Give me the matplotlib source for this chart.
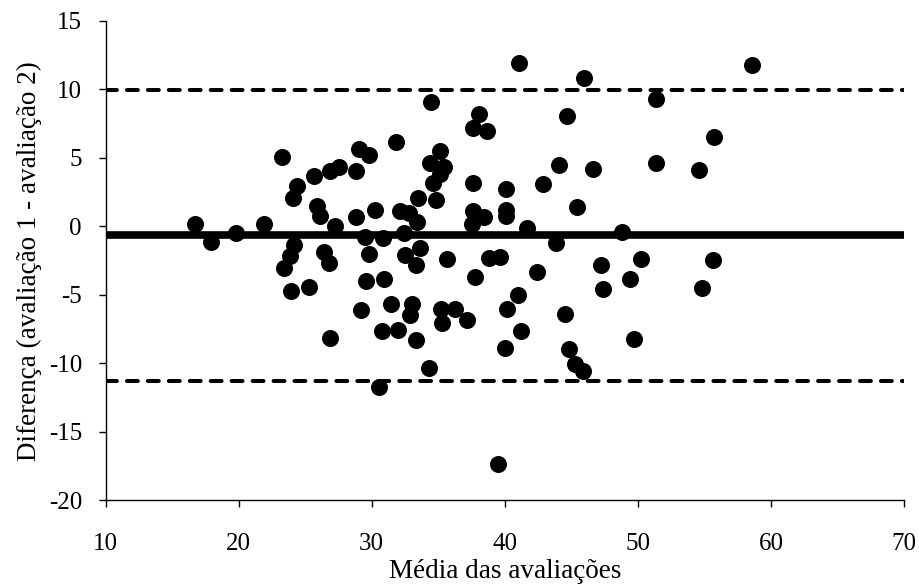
import numpy as np
import matplotlib.pyplot as plt

plt.rcParams['font.family'] = ['Liberation Serif', 'DejaVu Serif']
plt.rcParams['axes.unicode_minus'] = False

# Bland-Altman: mean of the two ratings vs their difference
media = [16.70, 17.91, 19.84, 21.87, 23.27, 24.39, 24.09, 25.69, 25.89, 26.14,
         26.90, 27.52, 28.82, 29.07, 29.82, 31.85, 28.82, 30.28, 27.22, 29.47,
         30.85, 32.12, 24.14, 23.89, 23.39, 26.39, 26.82, 29.77, 23.94, 25.27,
         29.19, 30.90, 29.57, 31.45, 30.80, 31.95, 26.90, 30.55, 41.09, 45.92,
         51.35, 34.48, 38.03, 37.60, 38.65, 44.69, 35.16, 34.40, 35.40, 35.16,
         34.62, 37.60, 40.08, 42.84, 44.04, 46.61, 51.35, 33.45, 34.83, 45.46,
         32.78, 33.40, 37.60, 38.40, 37.53, 40.08, 40.08, 41.66, 43.83, 48.79,
         32.45, 33.60, 32.53, 33.35, 35.65, 38.79, 39.66, 37.74, 42.41, 47.25,
         50.23, 49.42, 47.38, 40.96, 40.16, 44.49, 33.02, 32.90, 35.20, 36.28,
         35.28, 37.14, 33.35, 41.18, 49.74, 39.98, 44.79, 45.29, 45.86, 34.28,
         39.48, 58.56, 55.73, 54.56, 55.68, 54.83]
diferenca = [0.21, -1.12, -0.47, 0.14, 5.08, 2.94, 2.11, 3.69, 1.50, 0.75,
             4.05, 4.31, 4.05, 5.64, 5.20, 6.17, 0.66, 1.19, 0.04, -0.80,
             -0.83, 1.13, -1.36, -2.15, -3.06, -1.86, -2.70, -2.05, -4.72, -4.46,
             -6.11, -3.85, -4.00, -5.67, -7.64, -7.56, -8.13, -11.73, 11.96, 10.87,
             9.27, 9.07, 8.24, 7.20, 6.96, 8.05, 5.50, 4.60, 4.31, 3.86,
             3.20, 3.14, 2.70, 3.09, 4.48, 4.18, 4.65, 2.08, 1.95, 1.43,
             0.95, 0.34, 1.14, 0.66, 0.21, 1.19, 0.75, -0.15, -1.24, -0.44,
             -0.51, -1.56, -2.10, -2.80, -2.39, -2.34, -2.22, -3.68, -3.36, -2.82,
             -2.39, -3.85, -4.60, -5.01, -6.04, -6.42, -5.67, -6.48, -6.06, -6.06,
             -7.08, -6.84, -8.30, -7.61, -8.20, -8.86, -8.93, -10.05, -10.54, -10.37,
             -17.34, 11.77, 6.52, 4.11, -2.46, -4.53]

media_dif = -0.65
limite_sup = 9.97
limite_inf = -11.27

fig = plt.figure(figsize=(9.2, 5.86), dpi=100)
ax = fig.add_axes([0.1147, 0.1462, 0.8680, 0.8180])

ax.scatter(media, diferenca, s=150, color='black', zorder=3, linewidths=0)
ax.axhline(media_dif, color='black', lw=5.5, zorder=2)
for lim in (limite_sup, limite_inf):
    ax.axhline(lim, color='black', lw=2.9, linestyle=(0, (2.7, 2.5)),
               dash_capstyle='round', zorder=2)

ax.set_xlim(10, 70)
ax.set_ylim(-20, 15)
ax.set_xticks(np.arange(10, 71, 10))
ax.set_yticks(np.arange(-20, 16, 5))

for side in ('top', 'right'):
    ax.spines[side].set_visible(False)
for side in ('left', 'bottom'):
    ax.spines[side].set_linewidth(1.0)

ax.tick_params(axis='both', direction='out', length=5, width=1.0,
               labelsize=18)
ax.tick_params(axis='x', pad=18.5)
ax.tick_params(axis='y', pad=12)

ax.set_xlabel('Média das avaliações', fontsize=19.5, labelpad=3)
ax.set_ylabel('Diferença (avaliação 1 - avaliação 2)', fontsize=19.5,
              labelpad=5)

fig.savefig('out.png', dpi=100)
